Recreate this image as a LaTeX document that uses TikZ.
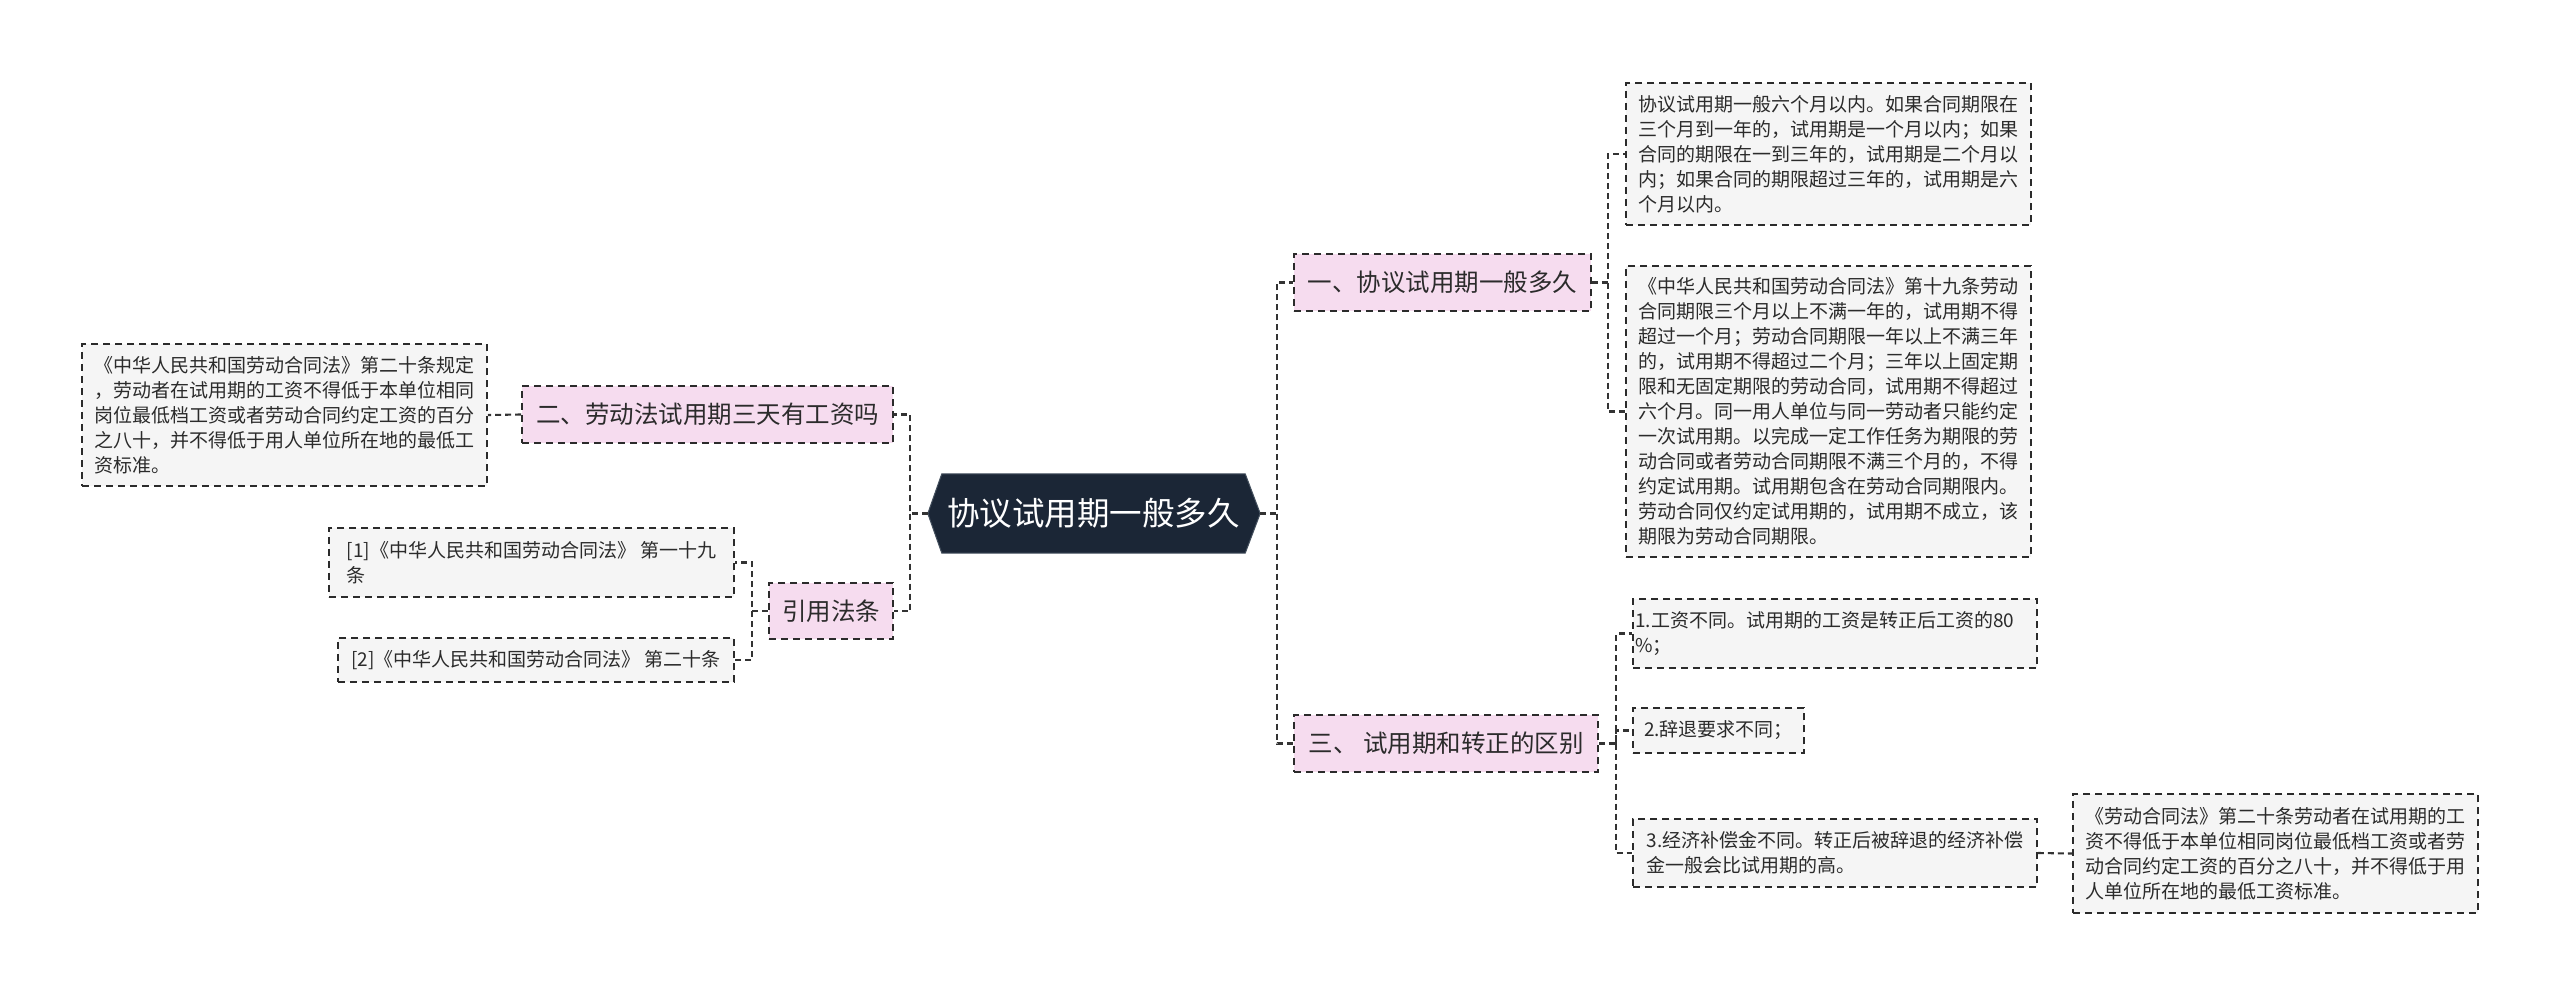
\documentclass[tikz,border=0pt]{standalone}
\usepackage{fontspec}
\setmainfont{Noto Sans CJK SC}
\usetikzlibrary{calc}
\definecolor{pinkfill}{HTML}{F6DCEF}
\definecolor{leafgray}{HTML}{F5F5F5}
\definecolor{rootnavy}{HTML}{1B2636}
\definecolor{rootedge}{HTML}{44505E}
\definecolor{inkgray}{HTML}{2B2B2B}
\definecolor{linegray}{HTML}{333333}
\tikzset{
  boxbase/.style={draw=inkgray, line width=1.9pt, dash pattern=on 7pt off 5pt, text=inkgray, inner sep=0pt, align=left},
  leafbox/.style={boxbase, fill=leafgray, font=\fontsize{19}{25}\selectfont},
  branchbox/.style={boxbase, fill=pinkfill, font=\fontsize{24.5}{30}\selectfont, minimum height=57},
  rootbox/.style={inner sep=0pt, text=white, font=\fontsize{32.5}{38}\selectfont, minimum width=303, minimum height=79},
  conn/.style={draw=linegray, line width=2.1pt, dash pattern=on 6pt off 4pt},
  rootconn/.style={draw=linegray, line width=2.6pt, dash pattern=on 6pt off 4pt}
}
\begin{document}
\begin{tikzpicture}[x=1pt,y=-1pt]
\useasboundingbox (0,0) rectangle (2560,995);
\fill[white] (0,0) rectangle (2560,995);

% root
\node[rootbox] (root) at (1093.5,513.5) {};
\coordinate (rootL) at ($(root.west)+(-14,0)$);
\coordinate (rootR) at ($(root.east)+(15,0)$);
\filldraw[fill=rootnavy, draw=rootedge, line width=1pt]
  (root.north west) -- (root.north east) -- (rootR) -- (root.south east)
  -- (root.south west) -- (rootL) -- cycle;
\node[rootbox] (roottext) at (root.center) {协议试用期一般多久};

% branches
\node[branchbox, minimum width=297] (b1) at (1442.5,282.5) {一、协议试用期一般多久};
\node[branchbox, minimum width=304] (b3) at (1446,743.5) {三、 试用期和转正的区别};
\node[branchbox, minimum width=371] (b2) at (707.5,414.5) {二、劳动法试用期三天有工资吗};
\node[branchbox, minimum width=124, minimum height=56] (b4) at (831,611) {引用法条};

% leaves of branch 1
\node[leafbox, minimum width=405, minimum height=142] (l1a) at (1828.5,154) {协议试用期一般六个月以内。如果合同期限在\\三个月到一年的，试用期是一个月以内；如果\\合同的期限在一到三年的，试用期是二个月以\\内；如果合同的期限超过三年的，试用期是六\\个月以内。};
\node[leafbox, minimum width=405, minimum height=291] (l1b) at (1828.5,411.5) {《中华人民共和国劳动合同法》第十九条劳动\\合同期限三个月以上不满一年的，试用期不得\\超过一个月；劳动合同期限一年以上不满三年\\的，试用期不得超过二个月；三年以上固定期\\限和无固定期限的劳动合同，试用期不得超过\\六个月。同一用人单位与同一劳动者只能约定\\一次试用期。以完成一定工作任务为期限的劳\\动合同或者劳动合同期限不满三个月的，不得\\约定试用期。试用期包含在劳动合同期限内。\\劳动合同仅约定试用期的，试用期不成立，该\\期限为劳动合同期限。};

% leaf of branch 2
\node[leafbox, minimum width=405, minimum height=142] (l2a) at (284.5,415) {《中华人民共和国劳动合同法》第二十条规定\\，劳动者在试用期的工资不得低于本单位相同\\岗位最低档工资或者劳动合同约定工资的百分\\之八十，并不得低于用人单位所在地的最低工\\资标准。};

% leaves of branch 4
\node[leafbox, minimum width=405, minimum height=69] (l4a) at (531.5,562.5) {[1]《中华人民共和国劳动合同法》~第一十九\\条\hphantom{人民共和国劳动合同法》~第一十九}};
\node[leafbox, minimum width=396, minimum height=44] (l4b) at (536,660) {[2]《中华人民共和国劳动合同法》~第二十条};

% leaves of branch 3
\node[leafbox, minimum width=404, minimum height=69] (l3a) at (1835,633.5) {1.工资不同。试用期的工资是转正后工资的80\\\%；\hphantom{工资不同。试用期的工资是转正后工资的80}};
\node[leafbox, minimum width=171, minimum height=45] (l3b) at (1718.5,730.5) {2.辞退要求不同；};
\node[leafbox, minimum width=404, minimum height=68] (l3c) at (1835,853) {3.经济补偿金不同。转正后被辞退的经济补偿\\金一般会比试用期的高。};
\node[leafbox, minimum width=405, minimum height=119] (l3d) at (2275.5,853.5) {《劳动合同法》第二十条劳动者在试用期的工\\资不得低于本单位相同岗位最低档工资或者劳\\动合同约定工资的百分之八十，并不得低于用\\人单位所在地的最低工资标准。};

% junction coordinates
\coordinate (jR) at (1277,513.5);
\coordinate (jL) at (910,513.5);
\coordinate (j1) at (1608,282.5);
\coordinate (j3) at (1616,743.5);
\coordinate (j4) at (752,611);

% connectors from root
\draw[rootconn] (rootR) -- (jR) |- (b1.west);
\draw[rootconn] (jR) |- (b3.west);
\draw[rootconn] (rootL) -- (jL) |- (b2.east);
\draw[rootconn] (jL) |- (b4.east);

% branch connectors
\draw[conn] (b1.east) -- (j1) |- (l1a.west);
\draw[conn] (j1) |- (l1b.west);
\draw[conn] (b3.east) -- (j3) |- (l3a.west);
\draw[conn] (j3) |- (l3b.west);
\draw[conn] (j3) |- (l3c.west);
\draw[conn] (l3c.east) -- (l3d.west);
\draw[conn] (b2.west) -- (l2a.east);
\draw[conn] (b4.west) -- (j4) |- (l4a.east);
\draw[conn] (j4) |- (l4b.east);
\end{tikzpicture}
\end{document}
